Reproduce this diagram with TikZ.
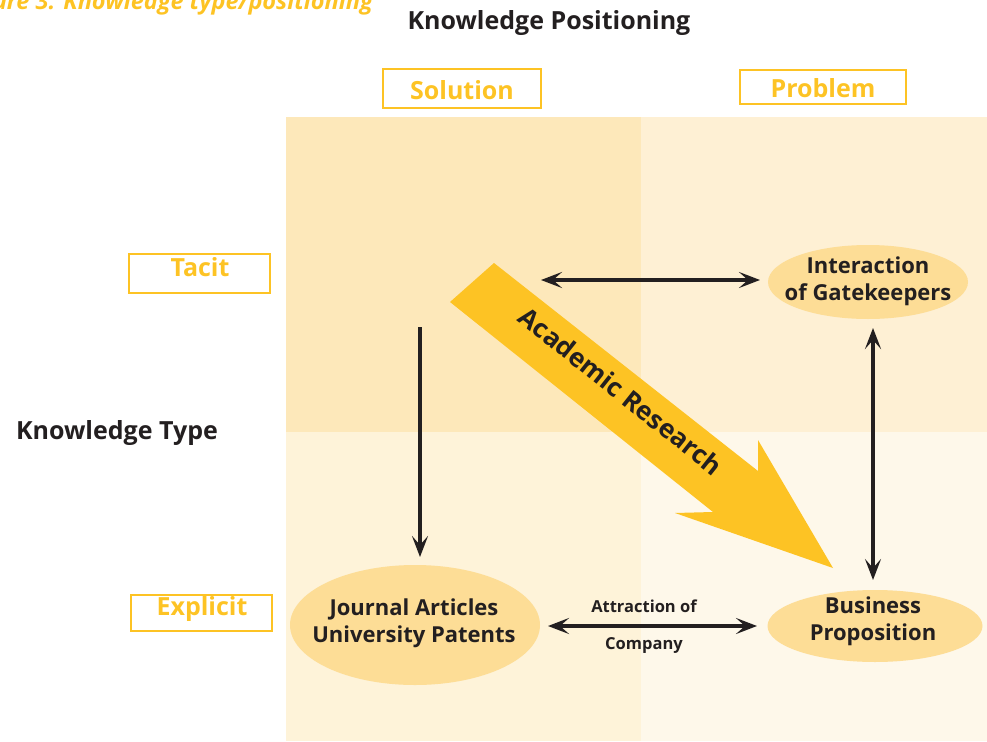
\documentclass[tikz,border=0pt]{standalone}
\usepackage{fontspec}
\setmainfont{Open Sans}
\usetikzlibrary{arrows.meta,shapes.geometric}
\definecolor{qTL}{RGB}{253,232,186}
\definecolor{qTR}{RGB}{254,240,212}
\definecolor{qBL}{RGB}{254,243,217}
\definecolor{qBR}{RGB}{254,248,234}
\definecolor{ylw}{RGB}{253,195,36}
\definecolor{ell}{RGB}{253,221,150}
\definecolor{ink}{RGB}{35,31,32}
\tikzset{
  lbl/.style={font=\bfseries\fontsize{#1}{#1}\selectfont, text=ink, inner sep=0pt},
  ylbl/.style={font=\bfseries\fontsize{25}{25}\selectfont, text=ylw, inner sep=0pt},
  ybox/.style={draw=ylw, line width=2.5pt, fill=none},
  blob/.style={ellipse, fill=ell, draw=none, inner sep=0pt},
  blobtext/.style={align=center, text=ink, inner sep=0pt, font=\bfseries\fontsize{22}{27}\selectfont},
  conn/.style={draw=ink, line width=3.5pt, -{Stealth[length=21pt,width=16pt,inset=9pt]}},
  conn2/.style={draw=ink, line width=3.5pt, {Stealth[length=21pt,width=16pt,inset=9pt]}-{Stealth[length=21pt,width=16pt,inset=9pt]}},
}
\begin{document}
\begin{tikzpicture}[x=1pt,y=-1pt]
\useasboundingbox (0,0) rectangle (987,741);
% quadrants
\fill[qTL] (286,117) rectangle (641,432);
\fill[qTR] (641,117) rectangle (987,432);
\fill[qBL] (286,432) rectangle (641,741);
\fill[qBR] (641,432) rectangle (987,741);
% caption and titles
\node[anchor=east, inner sep=0pt, text=ylw, font=\bfseries\itshape\fontsize{23.5}{23.5}\selectfont] (cap) at (373,3) {Figure 3: Knowledge type/positioning};
\node[lbl=25] (kpos) at (549,23) {Knowledge Positioning};
\node[lbl=25] (ktype) at (117,433) {Knowledge Type};
% header boxes
\draw[ybox] (383,69) rectangle (541,108);
\node[ylbl] (sol) at (462,90) {Solution};
\draw[ybox] (740,70) rectangle (906,104);
\node[ylbl] (prob) at (823,88) {Problem};
\draw[ybox] (129,254) rectangle (270,293);
\node[ylbl] (tacit) at (200,267) {Tacit};
\draw[ybox] (131,595) rectangle (272,631);
\node[ylbl] (expl) at (202,609) {Explicit};
% ellipses
\node[blob, minimum width=200pt, minimum height=74pt] (gate) at (868,282) {};
\node[blobtext] (gatet) at (868,281) {Interaction\\of Gatekeepers};
\node[blob, minimum width=250pt, minimum height=120pt] (jour) at (415,625) {};
\node[blobtext] (jourt) at (414,623) {Journal Articles\\University Patents};
\node[blob, minimum width=215pt, minimum height=72pt] (bus) at (875,626) {};
\node[blobtext] (bust) at (873,621) {Business\\Proposition};
% big arrow
\fill[ylw] (494,263) -- (758,471) -- (758,440) -- (833,568) -- (675,513) -- (713,512) -- (450,302) -- cycle;
\node[lbl=26, rotate=-38.5] (acad) at (621,391) {Academic Research};
% connectors
\coordinate (ta) at (541,280);
\coordinate (tb) at (760,280);
\draw[conn2] (ta) -- (tb);
\coordinate (lv) at (420,327);
\coordinate (lvb) at (420,557);
\draw[conn] (lv) -- (lvb);
\coordinate (rva) at (873,328);
\coordinate (rvb) at (873,580);
\draw[conn2] (rva) -- (rvb);
\coordinate (ba) at (548,626);
\coordinate (bb) at (757,626);
\draw[conn2] (ba) -- (bb);
\node[lbl=16.5] (attr) at (644,606) {Attraction of};
\node[lbl=16.5] (comp) at (644,645) {Company};
\end{tikzpicture}
\end{document}
